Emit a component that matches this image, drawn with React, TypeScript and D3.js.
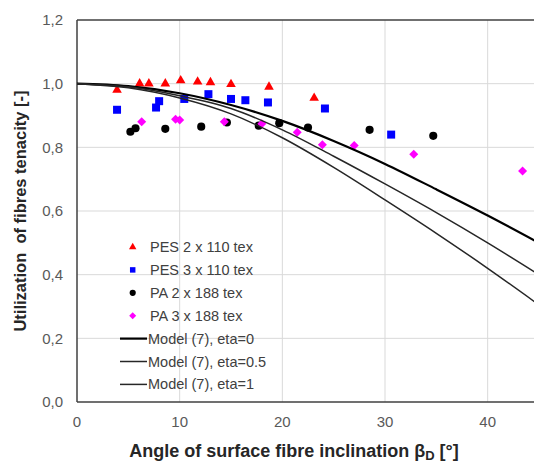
import React from "react";
import * as d3 from "d3";

const xTicks = [0, 10, 20, 30, 40];
const yTicks = [0, 0.2, 0.4, 0.6, 0.8, 1.0, 1.2];
const yTickLabels = ["0,0", "0,2", "0,4", "0,6", "0,8", "1,0", "1,2"];

const pes2: [number, number][] = [
  [3.9, 0.98], [6.1, 1.0], [7.0, 1.0], [8.6, 1.0], [10.1, 1.01],
  [11.75, 1.006], [13.0, 1.004], [15.0, 0.998], [18.7, 0.99], [23.1, 0.955],
];
const pes3: [number, number][] = [
  [3.9, 0.918], [7.7, 0.925], [8.0, 0.945], [10.45, 0.952], [12.8, 0.967],
  [15.0, 0.952], [16.4, 0.948], [18.6, 0.941], [24.15, 0.922], [30.6, 0.84],
];
const pa2: [number, number][] = [
  [5.2, 0.849], [5.7, 0.86], [8.6, 0.858], [12.1, 0.865], [14.6, 0.878],
  [17.7, 0.868], [19.7, 0.876], [22.5, 0.862], [28.5, 0.855], [34.7, 0.836],
];
const pa3: [number, number][] = [
  [6.3, 0.88], [9.6, 0.888], [10.0, 0.886], [14.35, 0.88], [18.0, 0.874],
  [21.45, 0.847], [23.9, 0.808], [27.0, 0.806], [32.8, 0.778], [43.4, 0.726],
];

const modelX = [0, 5, 10, 15, 20, 25, 30, 35, 40, 45];
const modelEta0 = [1.0, 0.992, 0.97, 0.933, 0.883, 0.82, 0.748, 0.668, 0.586, 0.5];
const modelEta05 = [1.0, 0.99, 0.962, 0.922, 0.855, 0.772, 0.685, 0.595, 0.5, 0.4];
const modelEta1 = [1.0, 0.987, 0.955, 0.905, 0.83, 0.737, 0.635, 0.53, 0.42, 0.305];

const W = 534;
const H = 464;
const left = 77;
const right = 539;
const top = 20;
const bottom = 402;

const FONT = "'Liberation Sans', Arial, sans-serif";

export default function App() {
  const x = d3.scaleLinear().domain([0, 45]).range([left, right]);
  const y = d3.scaleLinear().domain([0, 1.2]).range([bottom, top]);

  const line = d3
    .line<[number, number]>()
    .x((d) => x(d[0]))
    .y((d) => y(d[1]))
    .curve(d3.curveMonotoneX);

  const models = [
    { vals: modelEta0, w: 2.2, c: "#000000" },
    { vals: modelEta05, w: 1.5, c: "#262626" },
    { vals: modelEta1, w: 1.5, c: "#262626" },
  ];

  const tri = d3.symbol().type(d3.symbolTriangle).size(40);
  const sq = d3.symbol().type(d3.symbolSquare).size(64);
  const circ = d3.symbol().type(d3.symbolCircle).size(52);
  const diamond = (r: number) => `M0,${-r}L${r},0L0,${r}L${-r},0Z`;

  const triSmall = d3.symbol().type(d3.symbolTriangle).size(24);
  const sqSmall = d3.symbol().type(d3.symbolSquare).size(30);
  const circSmall = d3.symbol().type(d3.symbolCircle).size(30);

  const legendRows = [
    "PES 2 x 110 tex",
    "PES 3 x 110 tex",
    "PA 2 x 188 tex",
    "PA 3 x 188 tex",
    "Model (7), eta=0",
    "Model (7), eta=0.5",
    "Model (7), eta=1",
  ];
  const legY0 = 247;
  const legDy = 22.9;

  return (
    <svg
      width={W}
      height={H}
      style={{ position: "absolute", left: 0, top: 0, background: "#fff" }}
      fontFamily={FONT}
    >
      <defs>
        <clipPath id="plotclip">
          <rect x={left} y={top - 5} width={right - left} height={bottom - top + 10} />
        </clipPath>
      </defs>
      {xTicks.filter((t) => t > 0).map((t) => (
        <line key={"gx" + t} x1={x(t)} x2={x(t)} y1={top} y2={bottom} stroke="#d9d9d9" strokeWidth={1} />
      ))}
      {yTicks.filter((t) => t > 0 && t < 1.2).map((t) => (
        <line key={"gy" + t} x1={left} x2={W} y1={y(t)} y2={y(t)} stroke="#d9d9d9" strokeWidth={1} />
      ))}
      <line x1={left} x2={W} y1={top} y2={top} stroke="#404040" strokeWidth={1.5} />
      <line x1={left} x2={W} y1={bottom} y2={bottom} stroke="#404040" strokeWidth={1.5} />
      <line x1={left} x2={left} y1={top} y2={bottom} stroke="#404040" strokeWidth={1.5} />

      {yTicks.map((t, i) => (
        <text key={"ty" + t} x={63} y={y(t)} dy="0.35em" textAnchor="end" fontSize={15} fill="#595959">
          {yTickLabels[i]}
        </text>
      ))}
      {xTicks.map((t) => (
        <text key={"tx" + t} x={x(t)} y={427} textAnchor="middle" fontSize={15} fill="#595959">
          {t}
        </text>
      ))}

      <text
        transform={`translate(26,211) rotate(-90)`}
        textAnchor="middle"
        fontSize={16.5}
        fontWeight="bold"
        fill="#262626"
        style={{ whiteSpace: "pre" }}
      >
        {"Utilization  of fibres tenacity [-]"}
      </text>
      <text x={294} y={457} textAnchor="middle" fontSize={18} fontWeight="bold" fill="#262626">
        Angle of surface fibre inclination β
        <tspan fontSize={13} dy={3}>D</tspan>
        <tspan dy={-3}> [°]</tspan>
      </text>

      <g clipPath="url(#plotclip)">
        {pes2.map((d, i) => (
          <path key={"a" + i} d={tri() as string} transform={`translate(${x(d[0])},${y(d[1])})`} fill="#ff0000" />
        ))}
        {pes3.map((d, i) => (
          <path key={"b" + i} d={sq() as string} transform={`translate(${x(d[0])},${y(d[1])})`} fill="#0000ff" />
        ))}
        {pa2.map((d, i) => (
          <path key={"c" + i} d={circ() as string} transform={`translate(${x(d[0])},${y(d[1])})`} fill="#000000" />
        ))}
        {pa3.map((d, i) => (
          <path key={"e" + i} d={diamond(4.5)} transform={`translate(${x(d[0])},${y(d[1])})`} fill="#ff00ff" />
        ))}
        {models.map((m, i) => (
          <path
            key={"m" + i}
            d={line(modelX.map((v, j) => [v, m.vals[j]]) as [number, number][]) as string}
            fill="none"
            stroke={m.c}
            strokeWidth={m.w}
          />
        ))}
      </g>

      <g>
        {legendRows.map((lab, i) => {
          const ly = legY0 + i * legDy;
          let mark: React.ReactNode = null;
          const mx = 132.7;
          if (i === 0) mark = <path d={triSmall() as string} transform={`translate(${mx},${ly})`} fill="#ff0000" />;
          else if (i === 1) mark = <path d={sqSmall() as string} transform={`translate(${mx},${ly})`} fill="#0000ff" />;
          else if (i === 2) mark = <path d={circSmall() as string} transform={`translate(${mx},${ly})`} fill="#000000" />;
          else if (i === 3) mark = <path d={diamond(3.5)} transform={`translate(${mx},${ly})`} fill="#ff00ff" />;
          else
            mark = (
              <line x1={120} x2={147} y1={ly} y2={ly} stroke={models[i - 4].c} strokeWidth={models[i - 4].w} />
            );
          return (
            <g key={"l" + i}>
              {mark}
              <text x={i >= 4 ? 148 : 150} y={ly} dy="0.35em" fontSize={14.5} fill="#404040">
                {lab}
              </text>
            </g>
          );
        })}
      </g>
    </svg>
  );
}
